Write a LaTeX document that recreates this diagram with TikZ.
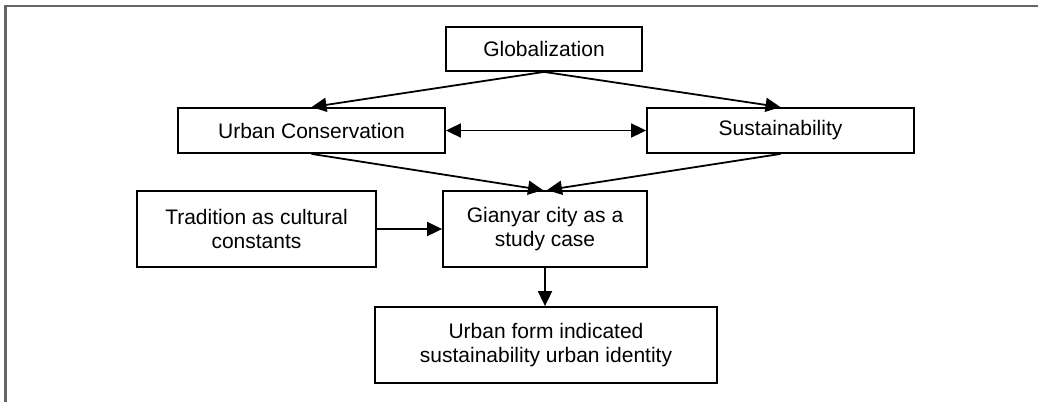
\documentclass[tikz,border=0pt]{standalone}
\usepackage{fontspec}
\setmainfont{Liberation Sans}
\usetikzlibrary{arrows.meta}
\begin{document}
\begin{tikzpicture}[x=1pt,y=-1pt,
  box/.style={draw=black,line width=1.8pt,inner sep=0pt,align=center,
    font=\fontsize{21}{24}\selectfont},
  tip/.style={},
  conn/.style={line width=1.8pt,-{Triangle[length=15pt,width=14pt]}},
  frameline/.style={draw=black!60,line width=2.5pt}]
\useasboundingbox (0,0) rectangle (1038,402);
\draw[frameline] (5.5,402) -- (5.5,6) -- (1038,6);
\node[box,minimum width=196pt,minimum height=44pt] (glob) at (544,49) {Globalization};
\node[box,minimum width=267pt,minimum height=45pt] (uc) at (311.5,130.5) {Urban Conservation};
\node[box,minimum width=267pt,minimum height=45pt] (sust) at (780.5,130.5) {Sustainability};
\node[box,minimum width=239pt,minimum height=76pt] (trad) at (256.5,229) {Tradition as cultural\\constants};
\node[box,minimum width=204pt,minimum height=76pt] (gian) at (545,229) {Gianyar city as a\\study case};
\node[box,minimum width=342pt,minimum height=76pt] (form) at (546,345) {Urban form indicated\\sustainability urban identity};
\draw[conn] (glob.south) -- (uc.north);
\draw[conn] (glob.south) -- (sust.north);
\draw[conn,{Triangle[length=15pt,width=14pt]}-{Triangle[length=15pt,width=14pt]}] (uc.east) -- (sust.west);
\draw[conn] (uc.south) -- ([xshift=-2pt]gian.north);
\draw[conn] (sust.south) -- ([xshift=2pt]gian.north);
\draw[conn] (trad.east) -- (gian.west);
\draw[conn] (gian.south) -- (form.north -| gian.south);
\end{tikzpicture}
\end{document}
